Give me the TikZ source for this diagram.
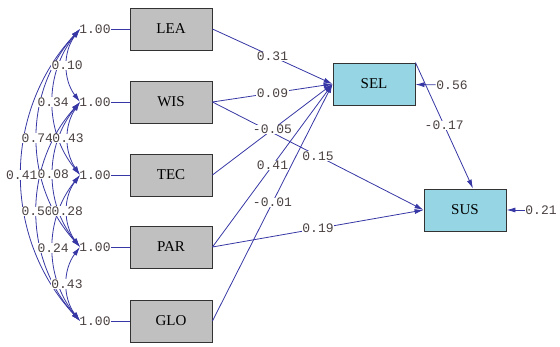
\documentclass[tikz,border=0pt]{standalone}
\usepackage{fontspec}
\setmainfont{Liberation Serif}
\setmonofont{Liberation Mono}
\usetikzlibrary{arrows.meta}
\definecolor{linkblue}{RGB}{55,55,165}
\definecolor{boxgray}{RGB}{192,192,192}
\definecolor{boxcyan}{RGB}{150,214,228}
\definecolor{numgray}{RGB}{75,65,65}

\begin{document}
\begin{tikzpicture}[x=1pt,y=-1pt,
    >={Latex[length=9pt,width=5pt]},
    obs/.style={draw=black!80,line width=0.9pt,fill=boxgray,minimum width=82pt,
      minimum height=42pt,inner sep=0pt,font=\fontsize{15}{17}\selectfont},
    lat/.style={obs,fill=boxcyan},
    est/.style={font=\fontsize{13}{15}\ttfamily,text=numgray,fill=white,inner sep=0.5pt},
    link/.style={draw=linkblue,line width=0.8pt}]
  \useasboundingbox (0,0) rectangle (560,347);

  % observed variables
  \node[obs](LEA) at (171,29) {LEA};
  \node[obs](WIS) at (171,102) {WIS};
  \node[obs](TEC) at (171,175) {TEC};
  \node[obs](PAR) at (171,247) {PAR};
  \node[obs](GLO) at (171,321) {GLO};
  \node[lat](SEL) at (374,84) {SEL};
  \node[lat](SUS) at (465,210) {SUS};

  % variances
  \node[est](vLEA) at (95,29) {1.00};
  \node[est](vWIS) at (95,102) {1.00};
  \node[est](vTEC) at (95,175) {1.00};
  \node[est](vPAR) at (95,247) {1.00};
  \node[est](vGLO) at (95,321) {1.00};
  \coordinate (cLEA) at (80,29);
  \coordinate (cWIS) at (80,102);
  \coordinate (cTEC) at (80,175);
  \coordinate (cPAR) at (80,247);
  \coordinate (cGLO) at (80,321);

  \draw[link] (vLEA) -- (LEA);
  \draw[link] (vWIS) -- (WIS);
  \draw[link] (vTEC) -- (TEC);
  \draw[link] (vPAR) -- (PAR);
  \draw[link] (vGLO) -- (GLO);

  % covariances
  \draw[link,<->] (cLEA) to[bend right=43] node[est]{0.41} (cGLO);
  \draw[link,<->] (cLEA) to[bend right=42] node[est]{0.74} (cPAR);
  \draw[link,<->] (cWIS) to[bend right=42] node[est]{0.50} (cGLO);
  \draw[link,<->] (cLEA) to[bend right=39] node[est]{0.34} (cTEC);
  \draw[link,<->] (cWIS) to[bend right=39] node[est]{0.08} (cPAR);
  \draw[link,<->] (cTEC) to[bend right=39] node[est]{0.24} (cGLO);
  \draw[link,<->] (cLEA) to[bend right=37] node[est]{0.10} (cWIS);
  \draw[link,<->] (cWIS) to[bend right=34] node[est]{0.43} (cTEC);
  \draw[link,<->] (cTEC) to[bend right=37] node[est]{0.28} (cPAR);
  \draw[link,<->] (cPAR) to[bend right=37] node[est]{0.43} (cGLO);

  % paths
  \draw[link,->] (WIS.east) -- node[est]{0.15} (SUS.west);
  \draw[link,->] (PAR.east) -- node[est]{0.19} (SUS.west);
  \draw[link,->] (LEA.east) -- node[est]{0.31} (SEL.west);
  \draw[link,->] (WIS.east) -- node[est]{0.09} (SEL.west);
  \draw[link,->] (GLO.east) -- node[est]{-0.01} (SEL.west);
  \draw[link,->] (PAR.east) -- node[est]{0.41} (SEL.west);
  \draw[link,->] (TEC.east) -- node[est]{-0.05} (SEL.west);
  \draw[link,->] (SEL.north east) -- node[est]{-0.17} ([xshift=8]SUS.north);

  % errors
  \node[est](eSEL) at (452,85) {0.56};
  \node[est](eSUS) at (541,210) {0.21};
  \draw[link,->] (eSEL) -- (SEL);
  \draw[link,->] (eSUS) -- (SUS);
\end{tikzpicture}
\end{document}
